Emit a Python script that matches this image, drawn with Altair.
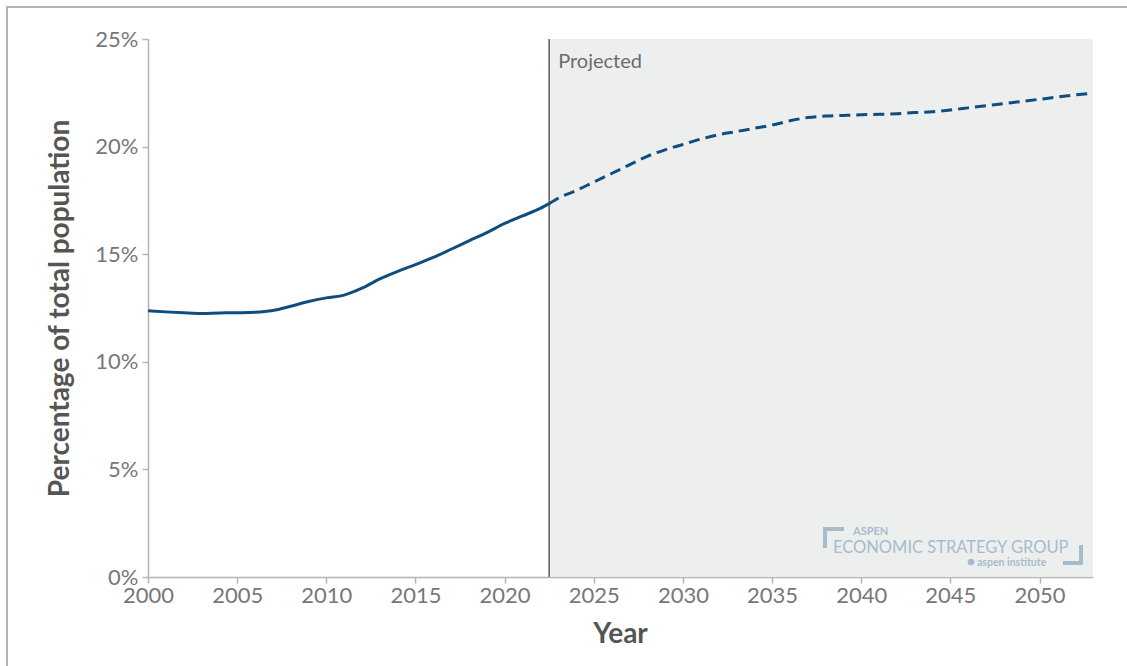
import altair as alt
import pandas as pd

# Share of total population, by year (percent)
hist_years = [2000, 2001, 2002, 2003, 2004, 2005, 2006, 2007, 2008, 2009, 2010,
              2011, 2012, 2013, 2014, 2015, 2016, 2017, 2018, 2019, 2020, 2021,
              2022, 2022.5]
hist_values = [12.37, 12.32, 12.28, 12.25, 12.27, 12.28, 12.30, 12.38, 12.58,
               12.80, 12.97, 13.10, 13.42, 13.85, 14.20, 14.52, 14.85, 15.23,
               15.62, 16.00, 16.43, 16.78, 17.13, 17.35]

proj_years = [2022.5, 2023, 2024, 2025, 2026, 2027, 2028, 2029, 2030, 2031, 2032,
              2033, 2034, 2035, 2036, 2037, 2038, 2039, 2040, 2041, 2042, 2043,
              2044, 2045, 2046, 2047, 2048, 2049, 2050, 2051, 2052, 2053]
proj_values = [17.35, 17.60, 17.95, 18.35, 18.75, 19.15, 19.55, 19.85, 20.10,
               20.35, 20.55, 20.70, 20.85, 21.00, 21.20, 21.35, 21.42, 21.45,
               21.48, 21.50, 21.53, 21.58, 21.62, 21.70, 21.80, 21.90, 22.00,
               22.10, 22.20, 22.30, 22.40, 22.48]

projection_start = 2022.5
x_domain = [2000, 2053]
y_domain = [0, 25]
x_ticks = [2000, 2005, 2010, 2015, 2020, 2025, 2030, 2035, 2040, 2045, 2050]
y_ticks = [0, 5, 10, 15, 20, 25]

LINE_BLUE = "#0f4d7e"
LOGO = "#a5bccd"
FONT = "Lato"

hist = pd.DataFrame({"year": hist_years, "value": hist_values})
proj = pd.DataFrame({"year": proj_years, "value": proj_values})
region = pd.DataFrame({"x": [projection_start], "x2": [x_domain[1]],
                       "y": [y_domain[0]], "y2": [y_domain[1]]})
one = pd.DataFrame({"k": [0]})

x_scale = alt.Scale(domain=x_domain, nice=False, zero=False)
y_scale = alt.Scale(domain=y_domain, nice=False)

x_axis = alt.Axis(title="Year", values=x_ticks, format="d", grid=False,
                  labelPadding=2, labelFlush=False, titleX=472, titleY=65,
                  titleBaseline="alphabetic", titleAlign="center")
y_axis = alt.Axis(title="Percentage of total population", values=y_ticks,
                  labelExpr="datum.value + '%'", grid=False, labelPadding=4,
                  labelFlush=False,
                  titleX=-80, titleY=269, titleAngle=270,
                  titleBaseline="alphabetic", titleAlign="center")

# Shaded projection region
shade = alt.Chart(region).mark_rect(color="#edefef").encode(
    x=alt.X("x:Q", scale=x_scale, axis=x_axis),
    x2="x2:Q",
    y=alt.Y("y:Q", scale=y_scale, axis=y_axis),
    y2="y2:Q",
)

# Divider at the start of the projection
divider = alt.Chart(region).mark_rule(color="#5a5a5a", strokeWidth=1.5).encode(
    x=alt.X("x:Q", scale=x_scale),
    y=alt.Y("y:Q", scale=y_scale),
    y2="y2:Q",
)

label = alt.Chart(region).mark_text(
    text="Projected", font=FONT, fontSize=20, color="#6b6b6b",
    align="left", baseline="alphabetic", dx=9, dy=29,
).encode(
    x=alt.X("x:Q", scale=x_scale),
    y=alt.Y("y2:Q", scale=y_scale),
)

hist_line = alt.Chart(hist).mark_line(
    color=LINE_BLUE, strokeWidth=3, interpolate="monotone"
).encode(x=alt.X("year:Q", scale=x_scale), y=alt.Y("value:Q", scale=y_scale))

proj_line = alt.Chart(proj).mark_line(
    color=LINE_BLUE, strokeWidth=3, strokeDash=[11, 6], interpolate="monotone"
).encode(x=alt.X("year:Q", scale=x_scale), y=alt.Y("value:Q", scale=y_scale))

# Logo block in the lower-right corner of the plot
logo_aspen = alt.Chart(one).mark_text(
    text="ASPEN", font=FONT, fontSize=11, fontWeight="bold", color=LOGO,
    align="left", baseline="alphabetic",
).encode(x=alt.value(705), y=alt.value(496))
logo_esg = alt.Chart(one).mark_text(
    text="ECONOMIC STRATEGY GROUP", font=FONT, fontSize=16.5, color=LOGO,
    align="left", baseline="alphabetic",
).encode(x=alt.value(685), y=alt.value(514))
logo_inst = alt.Chart(one).mark_text(
    text="aspen institute", font=FONT, fontSize=10.5, fontWeight="bold",
    color=LOGO, align="left", baseline="alphabetic",
).encode(x=alt.value(829), y=alt.value(527))
logo_leaf = alt.Chart(one).mark_point(
    filled=True, shape="circle", size=45, color=LOGO, opacity=1
).encode(x=alt.value(823), y=alt.value(523))
bracket_a = alt.Chart(one).mark_rule(color=LOGO, strokeWidth=4).encode(
    x=alt.value(675), x2=alt.value(696), y=alt.value(490))
bracket_b = alt.Chart(one).mark_rule(color=LOGO, strokeWidth=4).encode(
    x=alt.value(677), y=alt.value(488), y2=alt.value(509))
bracket_c = alt.Chart(one).mark_rule(color=LOGO, strokeWidth=4).encode(
    x=alt.value(933), y=alt.value(506), y2=alt.value(526))
bracket_d = alt.Chart(one).mark_rule(color=LOGO, strokeWidth=4).encode(
    x=alt.value(915), x2=alt.value(935), y=alt.value(524))

# Outer frame
frame = alt.Chart(one).mark_rect(
    fill="transparent", stroke="#9a9a9a", strokeWidth=1.5
).encode(x=alt.value(-141), x2=alt.value(1000), y=alt.value(-32), y2=alt.value(700))

chart = alt.layer(
    shade, divider, label, hist_line, proj_line,
    logo_aspen, logo_esg, logo_inst, logo_leaf,
    bracket_a, bracket_b, bracket_c, bracket_d, frame,
).properties(
    width=945, height=538,
    autosize=alt.AutoSizeParams(type="none"),
    padding={"left": 148, "top": 39, "right": 34, "bottom": 89},
    background="white",
).configure_view(stroke=None).configure_axis(
    domainColor="#b4b4b4", tickColor="#b4b4b4", domainWidth=1.5, tickWidth=1.5,
    tickSize=6, labelFont=FONT, labelFontSize=22, labelColor="#777777",
    titleFont=FONT, titleFontSize=28, titleFontWeight="bold", titleColor="#555555",
)

chart.save("out.html", embed_options={"renderer": "svg", "actions": False})
